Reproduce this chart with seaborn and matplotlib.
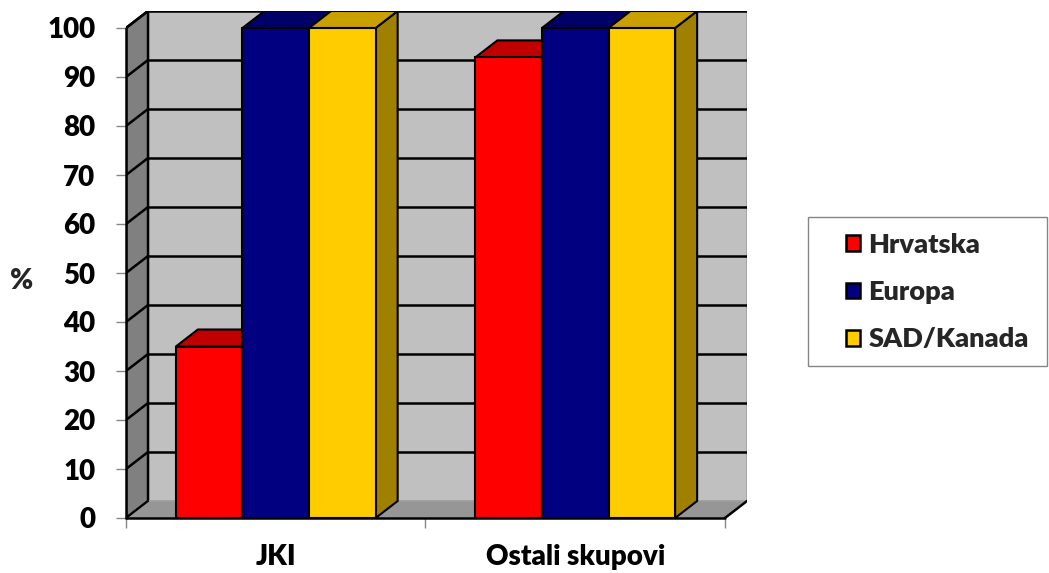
import numpy as np
import pandas as pd
import matplotlib
matplotlib.use("Agg")
import matplotlib.pyplot as plt
from matplotlib.patches import Polygon, Patch, Rectangle
from matplotlib.lines import Line2D
import seaborn as sns

# Data
categories = ["JKI", "Ostali skupovi"]
series = ["Hrvatska", "Europa", "SAD/Kanada"]
hrvatska = [35, 94]
europa = [100, 100]
sad_kanada = [100, 100]
y_ticks = [0, 10, 20, 30, 40, 50, 60, 70, 80, 90, 100]

# Colours of the three visible faces of each box
front_colors = {"Hrvatska": "#ff0000", "Europa": "#000080", "SAD/Kanada": "#ffcc00"}
top_colors = {"Hrvatska": "#c00000", "Europa": "#000066", "SAD/Kanada": "#c8a000"}
side_colors = {"Hrvatska": "#a00000", "Europa": "#000050", "SAD/Kanada": "#a08000"}

df = pd.DataFrame({
    "skup": categories * len(series),
    "zemlja": np.repeat(series, len(categories)),
    "postotak": hrvatska + europa + sad_kanada,
})

sns.set_theme(style="white")
plt.rcParams["font.family"] = ["Lato", "DejaVu Sans"]
plt.rcParams["font.weight"] = "heavy"
FS = 20
WEIGHT = "heavy"

W, H = 1049, 573
fig = plt.figure(figsize=(W / 100, H / 100), dpi=100)
ax = fig.add_axes([126 / W, 1 - 518 / H, 621 / W, 507 / H])

# depth of the 3D box (in data units)
DX = 22 / 299
DY = 17 / 4.9
YMAX = y_ticks[-1]
x0, x1 = -0.5, len(categories) - 0.5

sns.barplot(data=df, x="skup", y="postotak", hue="zemlja", hue_order=series,
            palette=front_colors, saturation=1, width=0.667,
            edgecolor="black", linewidth=1.5, legend=False, ax=ax)

ax.set_xlim(x0, x1 + DX)
ax.set_ylim(0, YMAX + DY)
ax.patch.set_visible(False)
for s in ax.spines.values():
    s.set_visible(False)

# walls and floor
left_wall = Polygon([(x0, 0), (x0 + DX, DY), (x0 + DX, YMAX + DY), (x0, YMAX)],
                    closed=True, facecolor="#808080", edgecolor="black", lw=1.8, zorder=0.5)
back_wall = Polygon([(x0 + DX, DY), (x1 + DX, DY), (x1 + DX, YMAX + DY), (x0 + DX, YMAX + DY)],
                    closed=True, facecolor="#c0c0c0", edgecolor="#a0a0a0", lw=1.2, zorder=0.4)
floor = Polygon([(x0, 0), (x1, 0), (x1 + DX, DY), (x0 + DX, DY)],
                closed=True, facecolor="#969696", edgecolor="#a0a0a0", lw=1.0, zorder=0.6)
for p in (back_wall, left_wall, floor):
    ax.add_patch(p)

# gridlines on back and left walls
for t in y_ticks[1:]:
    ax.add_line(Line2D([x0 + DX, x1 + DX], [t + DY, t + DY], color="black", lw=1.8, zorder=0.7))
    ax.add_line(Line2D([x0, x0 + DX], [t, t + DY], color="black", lw=1.8, zorder=0.7))
# front edges of the floor
ax.add_line(Line2D([x0, x1], [0, 0], color="black", lw=1.8, zorder=0.8, clip_on=False))
ax.add_line(Line2D([x1, x1 + DX], [0, DY], color="black", lw=1.8, zorder=0.8))
ax.add_line(Line2D([x0, x0 + DX], [0, DY], color="black", lw=1.5, zorder=0.8))
ax.add_line(Line2D([x0, x0], [0, YMAX], color="black", lw=1.8, zorder=0.8, clip_on=False))

# give each bar a top and a side face, drawn left to right
bars = []
for container, name in zip(ax.containers, series):
    for bar in container:
        bars.append((bar.get_x(), bar, name))
bars.sort(key=lambda b: b[0])
for i, (_, bar, name) in enumerate(bars):
    x, w, h = bar.get_x(), bar.get_width(), bar.get_height()
    z = 2 + i * 0.1
    side = Polygon([(x + w, 0), (x + w + DX, DY), (x + w + DX, h + DY), (x + w, h)],
                   closed=True, facecolor=side_colors[name], edgecolor="black", lw=1.5, zorder=z)
    top = Polygon([(x, h), (x + w, h), (x + w + DX, h + DY), (x + DX, h + DY)],
                  closed=True, facecolor=top_colors[name], edgecolor="black", lw=1.5, zorder=z + 0.01)
    ax.add_patch(side)
    ax.add_patch(top)
    bar.set_zorder(z + 0.02)

# axes ticks and labels
ax.set_xlabel("")
ax.set_ylabel("")
ax.set_yticks(y_ticks)
ax.set_yticklabels([str(t) for t in y_ticks])
ax.tick_params(axis="y", left=True, length=7, width=1, color="#868686", pad=15,
               labelsize=FS, labelcolor="black")
ax.set_xticks(range(len(categories)))
ax.set_xticklabels(categories)
ax.set_xticks(np.arange(x0, x1 + 0.01, 1.0), minor=True)
ax.tick_params(axis="x", which="major", length=0, pad=19, labelsize=FS, labelcolor="black")
ax.tick_params(axis="x", which="minor", bottom=True, length=7, width=1, color="#868686")
for lab in ax.get_xticklabels() + ax.get_yticklabels():
    lab.set_fontweight(WEIGHT)

fig.text(22 / W, 1 - 281 / H, "%", ha="center", va="center", fontsize=FS, fontweight=WEIGHT)

# legend box and entries
fig.add_artist(Rectangle((808 / W, 1 - 366 / H), 239 / W, 149 / H, transform=fig.transFigure,
                         facecolor="white", edgecolor="#868686", lw=1))
handles = [Patch(facecolor=front_colors[s], edgecolor="black", linewidth=1.8, label=s) for s in series]
leg = fig.legend(handles=handles, loc="center left", bbox_to_anchor=(846 / W, 1 - 292 / H),
                 frameon=False, fontsize=19.5,
                 handlelength=0.52, handleheight=0.52, handletextpad=0.3,
                 labelspacing=0.86, borderpad=0, borderaxespad=0)
for t in leg.get_texts():
    t.set_fontweight(WEIGHT)

fig.savefig("out.png", dpi=100, facecolor="white")
